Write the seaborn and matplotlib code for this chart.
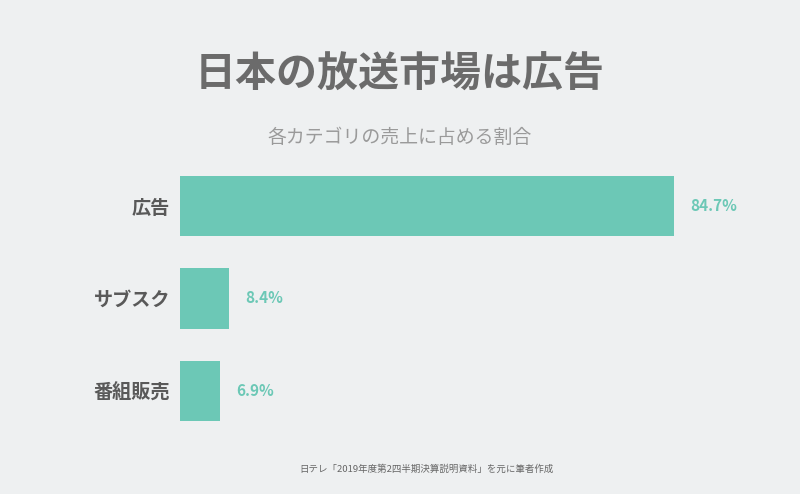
import matplotlib
matplotlib.use("Agg")
import matplotlib.pyplot as plt
import seaborn as sns
import pandas as pd

categories = ["広告", "サブスク", "番組販売"]
shares = [84.7, 8.4, 6.9]
value_labels = ["84.7%", "8.4%", "6.9%"]

title = "日本の放送市場は広告"
subtitle = "各カテゴリの売上に占める割合"
source = "日テレ「2019年度第2四半期決算説明資料」を元に筆者作成"

BG = "#eef0f1"
BAR = "#6cc8b6"

sns.set_theme(style="white")
plt.rcParams['font.family'] = ['Noto Sans CJK JP', 'DejaVu Sans']

df = pd.DataFrame({"category": categories, "share": shares})

fig = plt.figure(figsize=(8, 4.94), dpi=100, facecolor=BG)
ax = fig.add_axes([0.225, 0.1149, 0.729, 0.5617])
ax.set_facecolor(BG)

sns.barplot(data=df, x="share", y="category", color=BAR, width=0.65,
            saturation=1, linewidth=0, ax=ax, orient="h")

ax.set_xlim(0, 100)
ax.set_ylim(2.5, -0.5)
for s in ax.spines.values():
    s.set_visible(False)
ax.set_xticks([])
ax.set_xlabel("")
ax.set_ylabel("")
ax.tick_params(axis="y", length=0, pad=7)
for lbl in ax.get_yticklabels():
    lbl.set_fontsize(13.8)
    lbl.set_fontweight("bold")
    lbl.set_color("#595959")

for i, (v, t) in enumerate(zip(shares, value_labels)):
    ax.annotate(t, xy=(v, i), xytext=(11.5, 0), textcoords="offset points",
                ha="left", va="center", fontsize=11, fontweight="bold",
                color=BAR)

fig.text(0.5, 1 - 75 / 494, title, ha="center", va="center",
         fontsize=29.5, fontweight="bold", color="#6b6b6b")
fig.text(0.5, 1 - 137 / 494, subtitle, ha="center", va="center",
         fontsize=13.6, color="#9a9a9a")
fig.text(0.5335, 1 - 469 / 494, source, ha="center", va="center",
         fontsize=6.8, color="#666666")

fig.savefig("out.png", dpi=100, facecolor=BG)
